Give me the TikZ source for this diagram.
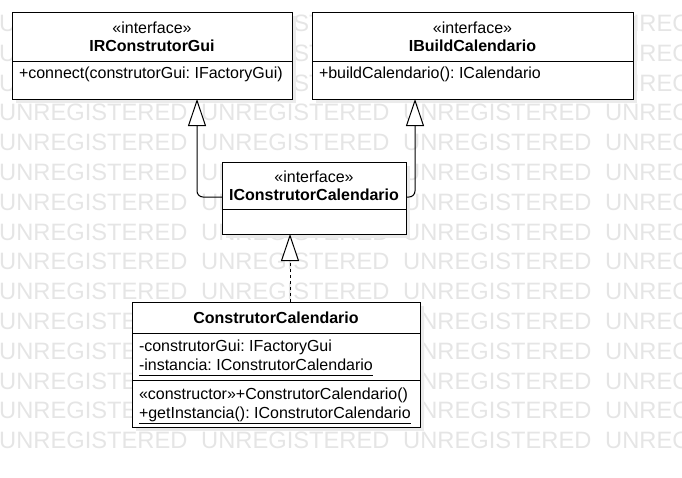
\documentclass[tikz,border=0pt]{standalone}
\usepackage{fontspec}
\setmainfont{Liberation Sans}
\usepackage{tikz}
\usetikzlibrary{arrows.meta, positioning, shadows}

\newcommand{\stat}[1]{\underline{#1\vphantom{g}}}
\frenchspacing

\tikzset{
  classbox/.style={draw=black, line width=1pt, fill=white, outer sep=0pt, inner sep=0pt,
    align=center, font=\fontsize{16}{18.3}\selectfont,
    drop shadow={shadow xshift=4pt, shadow yshift=-4pt, fill=black!8, opacity=1}},
  member/.style={inner sep=0pt, outer sep=0pt, align=left,
    font=\fontsize{16}{19}\selectfont},
  watermark/.style={text=black!10, font=\fontsize{23.7}{24}\selectfont, inner sep=0pt, anchor=base west},
  inherit/.style={draw, line width=1pt, -{Triangle[open, fill=white, length=27pt, width=18pt]}},
  realize/.style={inherit, dash pattern=on 3pt off 3pt}
}

\begin{document}
\begin{tikzpicture}[x=1pt, y=-1pt]
  \useasboundingbox (0,0) rectangle (682,477);

  % Watermark
  \foreach \row in {0,...,14} {
    \foreach \col in {0,...,3} {
      \node[watermark] at ({202*\col-1},{31.4+29.8*\row}) {UNREGISTERED};
    }
  }

  % IRConstrutorGui
  \node[classbox, minimum width=280, minimum height=49, anchor=north west] (rgui) at (12,12)
    {«interface»\\\textbf{IRConstrutorGui}};
  \node[classbox, minimum width=280, minimum height=38, below=0pt of rgui] (rguiops) {};
  \node[member, below right=6pt and 7pt of rguiops.north west] {+connect(construtorGui: IFactoryGui)};

  % IBuildCalendario
  \node[classbox, minimum width=321, minimum height=49, anchor=north west] (build) at (312,12)
    {«interface»\\\textbf{IBuildCalendario}};
  \node[classbox, minimum width=321, minimum height=38, below=0pt of build] (buildops) {};
  \node[member, below right=6pt and 7pt of buildops.north west] {+buildCalendario(): ICalendario};

  % IConstrutorCalendario
  \node[classbox, minimum width=184, minimum height=47, anchor=north west] (icc) at (222,162)
    {«interface»\\\textbf{IConstrutorCalendario}};
  \node[classbox, minimum width=184, minimum height=25, below=0pt of icc] (iccops) {};

  % ConstrutorCalendario
  \node[classbox, minimum width=288, minimum height=31, anchor=north west] (cc) at (132,302)
    {\textbf{ConstrutorCalendario}};
  \node[classbox, minimum width=288, minimum height=47, below=0pt of cc] (ccattr) {};
  \node[classbox, minimum width=288, minimum height=47, below=0pt of ccattr] (ccops) {};
  \node[member, below right=7pt and 7pt of ccattr.north west]
    {-construtorGui: IFactoryGui\\\stat{-instancia: IConstrutorCalendario}};
  \node[member, below right=8pt and 7pt of ccops.north west]
    {«constructor»+ConstrutorCalendario()\\\stat{+getInstancia(): IConstrutorCalendario}};

  % Generalization / realization
  \draw[inherit, rounded corners=6pt] (icc.west |- 0,197) -| (rguiops.south -| 197,0);
  \draw[inherit, rounded corners=6pt] (icc.east |- 0,197) -| (buildops.south -| 415,0);
  \draw[realize] (cc.north -| 290,0) -- (iccops.south -| 290,0);

\end{tikzpicture}
\end{document}
